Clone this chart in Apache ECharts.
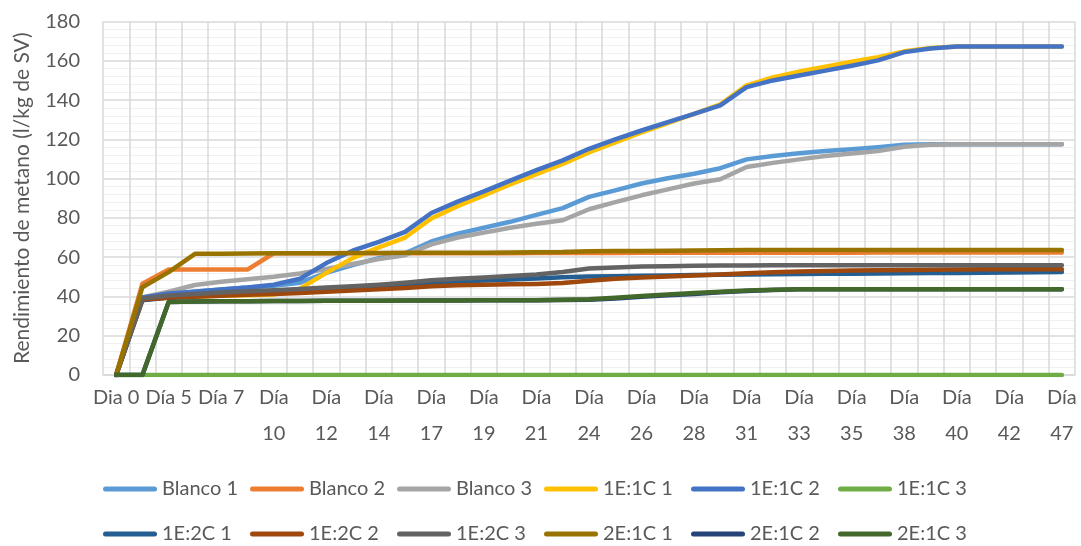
<!DOCTYPE html>
<html>
<head>
<meta charset="utf-8">
<script src="https://cdn.jsdelivr.net/npm/echarts@6/dist/echarts.min.js"></script>
<style>
  html, body { margin: 0; padding: 0; background: #ffffff; }
  #chart { width: 1081px; height: 546px; }
</style>
</head>
<body>
<div id="chart"></div>
<script>
// Sampling days (every second one is labelled on the axis)
const days = [
  'Dia 0', 'Día 3', 'Día 5', 'Día 6', 'Día 7', 'Día 9', 'Día 10', 'Día 11', 'Día 12', 'Día 13',
  'Día 14', 'Día 16', 'Día 17', 'Día 18', 'Día 19', 'Día 20', 'Día 21', 'Día 23', 'Día 24', 'Día 25',
  'Día 26', 'Día 27', 'Día 28', 'Día 30', 'Día 31', 'Día 32', 'Día 33', 'Día 34', 'Día 35', 'Día 37',
  'Día 38', 'Día 39', 'Día 40', 'Día 41', 'Día 42', 'Día 45', 'Día 47'
];

// Cumulative methane yield (l/kg de SV) per reactor
const blanco1 = [0, 39, 41, 42.5, 43.5, 44.5, 45.5, 47, 52, 56, 59.5, 62, 68, 72, 75, 78, 81.5, 85, 90.7, 94,
  97.5, 100.2, 102.5, 105.3, 109.8, 111.5, 112.9, 114, 115, 116, 117.2, 117.5, 117.5, 117.5, 117.5, 117.5, 117.5];
const blanco2 = [0, 46.5, 53.7, 53.7, 53.7, 53.7, 62, 62, 62, 62, 62, 62, 62, 62, 62, 62, 62.1, 62.1, 62.1, 62.1,
  62.2, 62.2, 62.2, 62.2, 62.3, 62.3, 62.3, 62.3, 62.3, 62.4, 62.4, 62.4, 62.4, 62.4, 62.4, 62.4, 62.4];
const blanco3 = [0, 39.5, 42.4, 45.8, 47.5, 48.7, 50, 51.7, 54, 56.5, 59, 61, 66.5, 70, 72.5, 75, 77, 78.8, 84.4, 88,
  91.5, 94.5, 97.5, 99.7, 105.9, 108, 109.8, 111.5, 112.8, 114, 116.2, 117.2, 117.5, 117.5, 117.5, 117.5, 117.5];
const e1c1_1 = [0, 38.5, 39.5, 40, 40.3, 40.6, 41, 44, 52, 59.5, 65, 70, 79.7, 86, 91.5, 97, 102.3, 107.5, 113.3, 118.5,
  123.5, 128.3, 133, 137.8, 147.5, 151.5, 154.5, 157, 159.5, 161.8, 164.8, 166.5, 167.3, 167.3, 167.3, 167.3, 167.3];
const e1c1_2 = [0, 39.5, 41.5, 42.4, 43.5, 44.5, 46, 49, 57, 63.3, 67.8, 72.9, 82.5, 88.3, 93.5, 99, 104.3, 109.3, 115.2, 120,
  124.5, 128.8, 133, 137.3, 146.6, 150, 152.5, 155, 157.5, 160.2, 164.4, 166.3, 167.3, 167.3, 167.3, 167.3, 167.3];
const e1c1_3 = [0, 0, 0, 0, 0, 0, 0, 0, 0, 0, 0, 0, 0, 0, 0, 0, 0, 0, 0, 0,
  0, 0, 0, 0, 0, 0, 0, 0, 0, 0, 0, 0, 0, 0, 0, 0, 0];
const e1c2_1 = [0, 38, 39.5, 40.5, 41.3, 42, 42.7, 43.4, 44.1, 44.8, 45.5, 46.2, 47, 47.6, 48.1, 48.6, 49.1, 49.8, 50.1, 50.3,
  50.5, 50.7, 50.9, 51.1, 51.2, 51.3, 51.4, 51.5, 51.6, 51.7, 51.8, 51.9, 52, 52.1, 52.2, 52.3, 52.4];
const e1c2_2 = [0, 38.5, 39.3, 39.8, 40.3, 40.8, 41.3, 41.8, 42.4, 43, 43.6, 44.3, 45.2, 45.7, 46, 46.2, 46.4, 46.8, 48, 49,
  49.6, 50.2, 50.7, 51.2, 51.8, 52.3, 52.7, 53, 53.2, 53.4, 53.5, 53.6, 53.7, 53.8, 53.8, 53.9, 53.9];
const e1c2_3 = [0, 39, 40.5, 41.3, 42, 42.6, 43.2, 43.8, 44.5, 45.2, 46, 47, 48.2, 49, 49.7, 50.4, 51.2, 52.5, 54.2, 54.8,
  55.2, 55.4, 55.6, 55.7, 55.8, 55.9, 55.9, 55.9, 55.9, 55.9, 55.9, 55.9, 55.9, 55.9, 55.9, 55.9, 55.9];
const e2c1_1 = [0, 44.7, 52.4, 61.7, 61.8, 61.9, 62, 62, 62, 62.1, 62.1, 62.2, 62.2, 62.3, 62.3, 62.4, 62.5, 62.6, 63, 63.1,
  63.2, 63.3, 63.4, 63.5, 63.6, 63.7, 63.7, 63.7, 63.7, 63.7, 63.7, 63.7, 63.7, 63.7, 63.7, 63.7, 63.7];
const e2c1_2 = [0, 0, 37.2, 37.4, 37.5, 37.6, 37.7, 37.7, 37.8, 37.8, 37.8, 37.9, 37.9, 37.9, 38, 38, 38.1, 38.2, 38.3, 38.9,
  39.8, 40.6, 41.3, 42.1, 42.8, 43.3, 43.6, 43.7, 43.7, 43.7, 43.7, 43.7, 43.7, 43.7, 43.7, 43.7, 43.7];
const e2c1_3 = [0, 0, 37.2, 37.4, 37.5, 37.6, 37.7, 37.7, 37.8, 37.8, 37.8, 37.9, 37.9, 37.9, 38, 38, 38.1, 38.3, 38.6, 39.3,
  40.2, 41, 41.7, 42.4, 43, 43.4, 43.6, 43.7, 43.7, 43.7, 43.7, 43.7, 43.7, 43.7, 43.7, 43.7, 43.7];

const seriesNames = ['Blanco 1', 'Blanco 2', 'Blanco 3', '1E:1C 1', '1E:1C 2', '1E:1C 3',
  '1E:2C 1', '1E:2C 2', '1E:2C 3', '2E:1C 1', '2E:1C 2', '2E:1C 3'];
const seriesData = [blanco1, blanco2, blanco3, e1c1_1, e1c1_2, e1c1_3,
  e1c2_1, e1c2_2, e1c2_3, e2c1_1, e2c1_2, e2c1_3];
const seriesColors = ['#5B9BD5', '#ED7D31', '#A5A5A5', '#FFC000', '#4472C4', '#70AD47',
  '#255E91', '#9E480E', '#636363', '#997300', '#264478', '#43682B'];

const yTicks = { min: 0, max: 180, step: 20 };

const FONT = 'Lato, "Liberation Sans", sans-serif';
const TEXT = '#595959';
const GRID = '#D9D9D9';

const legendIcon = 'path://M2.5,0 L51.5,0 A2.5,2.5 0 0 1 51.5,5 L2.5,5 A2.5,2.5 0 0 1 2.5,0 Z';

function legendRow(names, top) {
  return {
    data: names,
    left: 103,
    top: top,
    orient: 'horizontal',
    icon: legendIcon,
    itemWidth: 54,
    itemHeight: 5,
    itemGap: 0,
    padding: 0,
    selectedMode: false,
    textStyle: { color: TEXT, fontSize: 20, fontFamily: FONT, width: 88, lineHeight: 24 }
  };
}

const chart = echarts.init(document.getElementById('chart'), null, { renderer: 'canvas' });

chart.setOption({
  backgroundColor: '#ffffff',
  animation: false,
  grid: { left: 103, right: 6, top: 21.5, bottom: 171, containLabel: false },
  legend: [
    legendRow(seriesNames.slice(0, 6), 477),
    legendRow(seriesNames.slice(6), 522)
  ],
  xAxis: {
    type: 'category',
    data: days,
    boundaryGap: true,
    axisLine: { show: true, lineStyle: { color: GRID, width: 1.5 } },
    axisTick: { show: false, interval: 0 },
    splitLine: { show: true, interval: 0, lineStyle: { color: GRID, width: 1.5 } },
    axisLabel: {
      interval: 1,
      color: TEXT,
      fontSize: 20,
      fontFamily: FONT,
      lineHeight: 36,
      margin: 5,
      formatter: function (v) {
        return v.length > 5 ? v.replace(' ', '\n') : v;
      }
    }
  },
  yAxis: {
    type: 'value',
    min: yTicks.min,
    max: yTicks.max,
    interval: yTicks.step,
    name: 'Rendimiento de metano (l/kg de SV)',
    nameLocation: 'middle',
    nameGap: 70,
    nameTextStyle: { color: TEXT, fontSize: 21, fontFamily: FONT },
    axisLine: { show: false },
    axisTick: { show: false },
    minorTick: { show: false, splitNumber: 5 },
    axisLabel: { color: TEXT, fontSize: 20, fontFamily: FONT, margin: 23 },
    splitLine: { show: true, lineStyle: { color: GRID, width: 1.5 } },
    minorSplitLine: { show: true, lineStyle: { color: '#F0F0F0', width: 1.2 } }
  },
  series: seriesNames.map(function (name, i) {
    return {
      name: name,
      type: 'line',
      data: seriesData[i],
      color: seriesColors[i],
      symbol: 'none',
      showSymbol: false,
      smooth: false,
      lineStyle: { width: 4.5, color: seriesColors[i], cap: 'round', join: 'round' }
    };
  })
});
</script>
</body>
</html>
